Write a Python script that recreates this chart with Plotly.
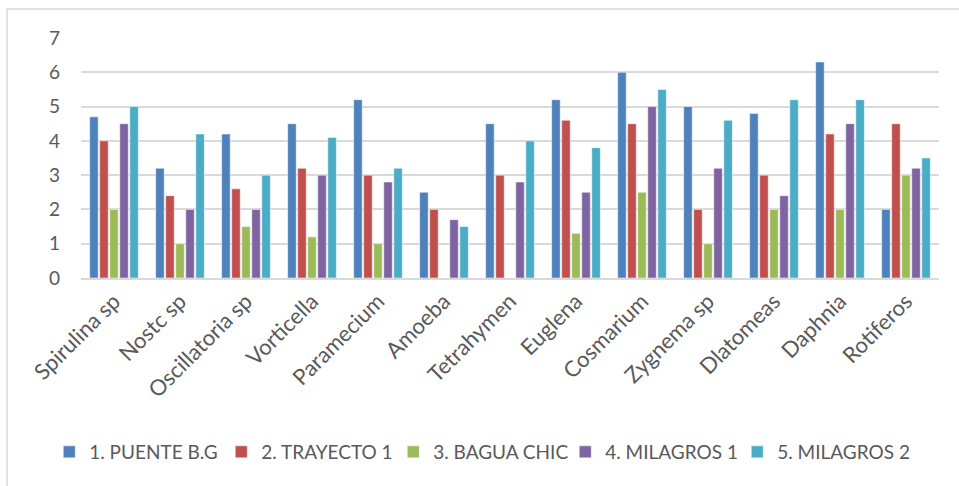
import plotly.graph_objects as go

categories = ["Spirulina sp", "Nostc sp", "Oscillatoria sp", "Vorticella", "Paramecium",
              "Amoeba", "Tetrahymen", "Euglena", "Cosmarium", "Zygnema sp",
              "Dlatomeas", "Daphnia", "Rotiferos"]
series_names = ["1. PUENTE B.G", "2. TRAYECTO 1", "3. BAGUA CHIC", "4. MILAGROS 1", "5. MILAGROS 2"]
puente = [4.7, 3.2, 4.2, 4.5, 5.2, 2.5, 4.5, 5.2, 6.0, 5.0, 4.8, 6.3, 2.0]
trayecto = [4.0, 2.4, 2.6, 3.2, 3.0, 2.0, 3.0, 4.6, 4.5, 2.0, 3.0, 4.2, 4.5]
bagua = [2.0, 1.0, 1.5, 1.2, 1.0, 0, 0, 1.3, 2.5, 1.0, 2.0, 2.0, 3.0]
milagros1 = [4.5, 2.0, 2.0, 3.0, 2.8, 1.7, 2.8, 2.5, 5.0, 3.2, 2.4, 4.5, 3.2]
milagros2 = [5.0, 4.2, 3.0, 4.1, 3.2, 1.5, 4.0, 3.8, 5.5, 4.6, 5.2, 5.2, 3.5]
y_ticks = [0, 1, 2, 3, 4, 5, 6, 7]

colors = ["#4F81BD", "#C0504D", "#9BBB59", "#8064A2", "#4BACC6"]
font = "Lato, Open Sans, sans-serif"
text_color = "#595959"

fig = go.Figure()
for name, vals, c in zip(series_names, [puente, trayecto, bagua, milagros1, milagros2], colors):
    fig.add_trace(go.Bar(x=categories, y=vals, name=name,
                         marker=dict(color=c, line=dict(color="white", width=0.5))))

fig.update_layout(
    width=959, height=486,
    margin=dict(l=81, r=20, t=38, b=208, autoexpand=False),
    paper_bgcolor="white", plot_bgcolor="white",
    barmode="group", bargap=0.24, bargroupgap=0.15,
    font=dict(family=font, color=text_color),
    xaxis=dict(tickangle=-45, tickfont=dict(size=22, color=text_color), showgrid=False,
               showline=True, linecolor="#D9D9D9", linewidth=1.5, ticks="", automargin=False),
    yaxis=dict(range=[0, 7], tickvals=y_ticks, tickfont=dict(size=19, color=text_color),
               showgrid=True, gridcolor="#D9D9D9", gridwidth=1.5, zeroline=False, ticks="",
               ticklabelstandoff=20, automargin=False),
    legend=dict(orientation="h", x=-0.037, xanchor="left",
                y=-0.725, yanchor="middle",
                font=dict(size=19, color=text_color), itemwidth=30, tracegroupgap=0,
                entrywidth=127, entrywidthmode="pixels"),
    shapes=[dict(type="rect", xref="paper", yref="paper", x0=-0.0862, x1=1.04, y0=-0.9, y1=1.1208,
                 line=dict(color="#D9D9D9", width=1.5), layer="below")],
)
fig.write_html("out.html", config={"displayModeBar": False},
               post_script="document.body.style.margin='0';")
